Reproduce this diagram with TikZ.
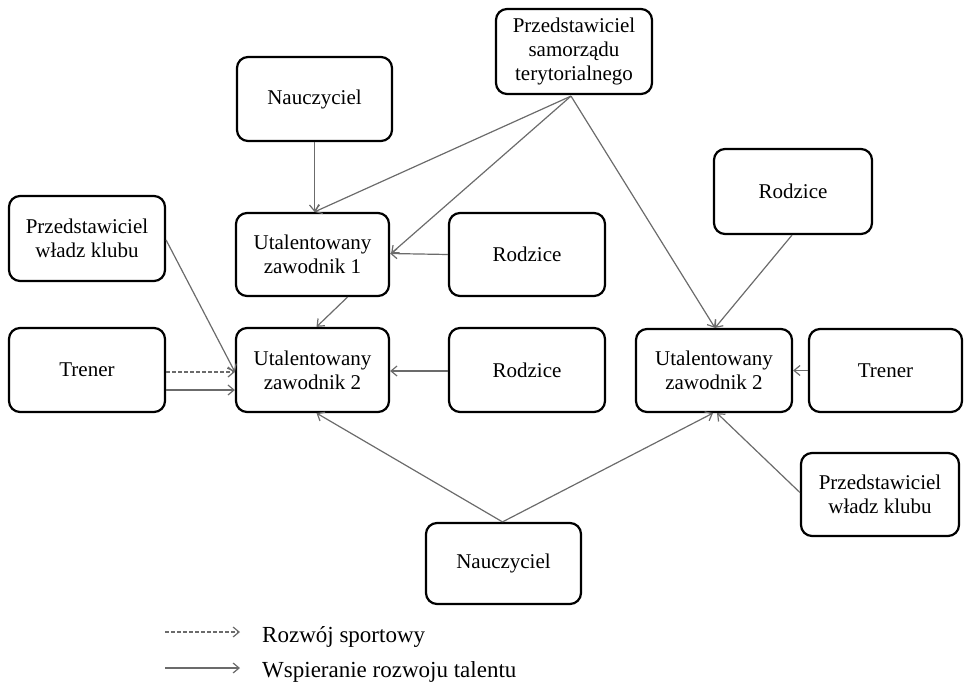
\documentclass[tikz,border=0pt]{standalone}
\usepackage{fontspec}
\setmainfont{Liberation Serif}
\usetikzlibrary{arrows.meta,calc}
\begin{document}
\begin{tikzpicture}[x=1pt,y=-1pt,
  box/.style={draw=black,line width=2.2pt,rounded corners=11pt,align=center,
    font=\fontsize{21}{24}\selectfont,inner sep=0pt},
  conn/.style={draw=black!58,line width=1.2pt,-{Straight Barb[length=6pt,width=10pt]}},
  dconn/.style={conn,dash pattern=on 3.5pt off 2.5pt},
  legtext/.style={anchor=base west,inner sep=0pt,font=\fontsize{23}{26}\selectfont}]
\useasboundingbox (0,0) rectangle (964,685);
\node[box,minimum width=156pt,minimum height=85pt] (sam) at (574,51.5) {Przedstawiciel\\samorządu\\terytorialnego};
\node[box,minimum width=155pt,minimum height=84pt] (nau1) at (314.5,99) {Nauczyciel};
\node[box,minimum width=156pt,minimum height=85pt] (wk1) at (87,238.5) {Przedstawiciel\\władz klubu};
\node[box,minimum width=153pt,minimum height=83pt] (z1) at (312.5,254.5) {Utalentowany\\zawodnik 1};
\node[box,minimum width=156pt,minimum height=83pt] (rod1) at (527,254.5) {Rodzice};
\node[box,minimum width=156pt,minimum height=84pt] (tr1) at (87,370) {Trener};
\node[box,minimum width=153pt,minimum height=84pt] (z2) at (312.5,370) {Utalentowany\\zawodnik 2};
\node[box,minimum width=156pt,minimum height=84pt] (rod2) at (527,370) {Rodzice};
\node[box,minimum width=158pt,minimum height=85pt] (rodR) at (793,191.5) {Rodzice};
\node[box,minimum width=156pt,minimum height=83pt] (z2R) at (714,370.5) {Utalentowany\\zawodnik 2};
\node[box,minimum width=153pt,minimum height=83pt] (trR) at (885.5,370.5) {Trener};
\node[box,minimum width=158pt,minimum height=83pt] (wkR) at (880,494.5) {Przedstawiciel\\władz klubu};
\node[box,minimum width=155pt,minimum height=81pt] (nau2) at (503.5,563.5) {Nauczyciel};

\draw[conn] (nau1.south) -- ($(z1.north)+(2,0)$);
\draw[conn] ($(sam.south)+(-3,1)$) -- ($(z1.north)+(2,0)$);
\draw[conn] ($(sam.south)+(-3,1)$) -- ($(z1.east)+(1,-1)$);
\draw[conn] ($(sam.south)+(-3,1)$) -- ($(z2R.north)+(1,0)$);
\draw[conn] (rod1.west) -- ($(z1.east)+(0,-1)$);
\draw[conn] ($(z1.south)+(35,0)$) -- ($(z2.north)+(4,0)$);
\draw[conn] ($(wk1.east)+(0,1.5)$) -- ($(z2.west)+(0,2)$);
\draw[dconn] ($(tr1.east)+(0,2)$) -- ($(z2.west)+(0,2)$);
\draw[conn] ($(tr1.east)+(0,20)$) -- ($(z2.west)+(0,20)$);
\draw[conn] ($(rod2.west)+(0,1)$) -- ($(z2.east)+(0,1)$);
\draw[conn] ($(nau2.north)+(-1,0)$) -- ($(z2.south)+(4,0)$);
\draw[conn] ($(nau2.north)+(-1,0)$) -- ($(z2R.south)+(-1,0)$);
\draw[conn] ($(rodR.south)+(-1,0)$) -- ($(z2R.north)+(1,0)$);
\draw[conn] (trR.west) -- (z2R.east);
\draw[conn] ($(wkR.west)+(0,-2)$) -- ($(z2R.south)+(3,0)$);

\coordinate (la) at (165,632);
\coordinate (lb) at (240,632);
\coordinate (lc) at (165,668);
\coordinate (ld) at (240,668);
\draw[dconn] (la) -- (lb);
\draw[conn] (lc) -- (ld);
\node[legtext] (t1) at (262,642) {Rozwój sportowy};
\node[legtext] (t2) at (262,677) {Wspieranie rozwoju talentu};
\end{tikzpicture}
\end{document}
